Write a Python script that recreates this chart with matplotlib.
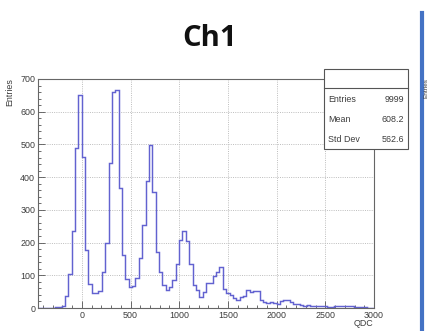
import numpy as np
import matplotlib
matplotlib.use("Agg")
import matplotlib.pyplot as plt
from matplotlib.ticker import MultipleLocator

# Histogram binning (QDC channels)
x_min, x_max, n_bins = -450.0, 3000.0, 100

# Bin contents
counts = [
    0, 0, 0, 0, 0, 2, 4, 7, 36, 104,
    234, 489, 652, 461, 176, 73, 46, 46, 53, 110,
    198, 442, 660, 667, 367, 163, 90, 63, 66, 92,
    154, 255, 389, 499, 354, 172, 111, 71, 56, 63,
    85, 133, 209, 234, 206, 136, 71, 56, 34, 49,
    76, 77, 97, 110, 125, 58, 46, 41, 31, 25,
    34, 38, 56, 49, 51, 53, 25, 17, 15, 18,
    15, 12, 22, 25, 23, 17, 13, 13, 10, 7,
    10, 5, 7, 7, 5, 5, 3, 3, 5, 5,
    7, 7, 5, 5, 3, 3, 2, 2, 1, 1,
]

stat_names = ["Entries", "Mean", "Std Dev"]
stat_values = ["9999", "608.2", "562.6"]

title = "Ch1"
x_title = "QDC"
y_title = "Entries"

W, H = 429, 331
fig = plt.figure(figsize=(W / 100, H / 100), dpi=100)
fig.patch.set_facecolor("white")

def fx(px):
    return px / W

def fy(py):
    return 1 - py / H

ax = fig.add_axes([fx(38), fy(308), fx(374) - fx(38), fy(79) - fy(308)])

edges = np.linspace(x_min, x_max, n_bins + 1)
ax.stairs(counts, edges, color="#6262d0", linewidth=1.05, baseline=0)

ax.set_xlim(x_min, x_max)
ax.set_ylim(0, 700)

ax.xaxis.set_major_locator(MultipleLocator(500))
ax.xaxis.set_minor_locator(MultipleLocator(100))
ax.yaxis.set_major_locator(MultipleLocator(100))
ax.yaxis.set_minor_locator(MultipleLocator(20))

ax.grid(True, which="major", color="#bdbdbd", linestyle=(0, (1, 1.3)), linewidth=0.7)
ax.set_axisbelow(True)

fs = 6.4
label_font = dict(family="Liberation Sans", size=fs, color="#3c3c3c")
ax.tick_params(which="both", direction="in", top=False, right=False,
               color="#555555", width=0.6, labelsize=fs, labelcolor="#3c3c3c")
ax.tick_params(which="major", length=5, pad=2)
ax.tick_params(which="minor", length=2.5)
for lab in ax.get_xticklabels() + ax.get_yticklabels():
    lab.set_family("Liberation Sans")

for s in ax.spines.values():
    s.set_color("#666666")
    s.set_linewidth(0.8)

# Axis titles
fig.text(fx(373), fy(324), x_title, ha="right", va="center", **label_font)
fig.text(fx(10), fy(78), y_title, ha="center", va="top", rotation=90, **label_font)

# Title
fig.text(fx(210), fy(38), title, ha="center", va="center",
         family="Open Sans", fontweight="bold", fontsize=21, color="#111111")

# Statistics box
bx0, bx1, by0, by1 = 324, 408, 69, 149
box = plt.Rectangle((fx(bx0), fy(by1)), fx(bx1) - fx(bx0), fy(by0) - fy(by1),
                    transform=fig.transFigure, facecolor="white",
                    edgecolor="#555555", linewidth=0.8, zorder=5)
fig.add_artist(box)
fig.add_artist(plt.Line2D([fx(bx0), fx(bx1)], [fy(88), fy(88)],
                          transform=fig.transFigure, color="#555555",
                          linewidth=0.8, zorder=6))
for i, (n, v) in enumerate(zip(stat_names, stat_values)):
    yy = fy(99 + i * 20.5)
    fig.text(fx(328), yy, n, ha="left", va="center", zorder=7, **label_font)
    fig.text(fx(404), yy, v, ha="right", va="center", zorder=7, **label_font)

# Neighbouring panel edge
fig.add_artist(plt.Line2D([fx(421.5), fx(421.5)], [fy(13), 0],
                          transform=fig.transFigure, color="#4472c4",
                          linewidth=3.0))
fig.text(fx(424), fy(78), y_title, ha="left", va="top", rotation=90,
         family="Liberation Sans", size=4.6, color="#3c3c3c")

fig.savefig("out.png", dpi=100, facecolor="white")
